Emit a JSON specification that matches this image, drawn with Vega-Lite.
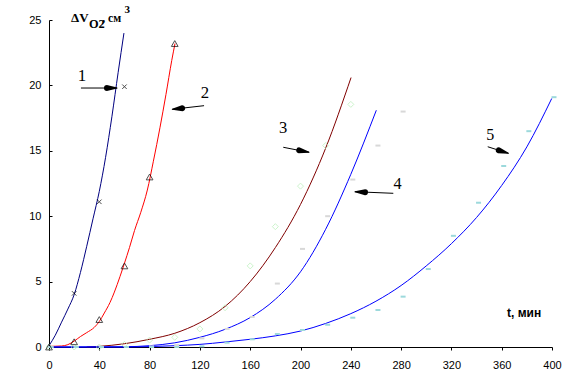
{
  "$schema": "https://vega.github.io/schema/vega-lite/v6.json",
  "width": 503,
  "height": 327,
  "autosize": {"type": "none"},
  "padding": {"left": 49, "top": 20, "right": 20, "bottom": 45},
  "background": "white",
  "config": {
    "view": {"stroke": null},
    "axis": {"grid": false, "domainColor": "black", "tickColor": "black", "labelColor": "black", "labelFont": "Liberation Sans", "labelFontSize": 11, "title": null}
  },
  "datasets": {
    "curves": [
      {"s": "1", "t": 0, "v": 0.1}, {"s": "1", "t": 5, "v": 0.9}, {"s": "1", "t": 10, "v": 1.9}, {"s": "1", "t": 15, "v": 2.9}, {"s": "1", "t": 20, "v": 4.0}, {"s": "1", "t": 25, "v": 5.7}, {"s": "1", "t": 30, "v": 7.7}, {"s": "1", "t": 35, "v": 9.8}, {"s": "1", "t": 40, "v": 11.9}, {"s": "1", "t": 45, "v": 14.5}, {"s": "1", "t": 50, "v": 17.6}, {"s": "1", "t": 55, "v": 21.0}, {"s": "1", "t": 59.6, "v": 24.0},
      {"s": "2", "t": 0, "v": 0.05}, {"s": "2", "t": 10, "v": 0.08}, {"s": "2", "t": 15, "v": 0.18}, {"s": "2", "t": 20, "v": 0.45}, {"s": "2", "t": 25, "v": 0.8}, {"s": "2", "t": 30, "v": 1.1}, {"s": "2", "t": 36, "v": 1.5}, {"s": "2", "t": 40, "v": 1.95}, {"s": "2", "t": 44, "v": 2.6}, {"s": "2", "t": 48.5, "v": 3.4}, {"s": "2", "t": 52, "v": 4.2}, {"s": "2", "t": 56.5, "v": 5.4}, {"s": "2", "t": 60, "v": 6.4}, {"s": "2", "t": 64, "v": 7.6}, {"s": "2", "t": 68, "v": 8.9}, {"s": "2", "t": 73, "v": 10.3}, {"s": "2", "t": 78.2, "v": 12.0}, {"s": "2", "t": 83, "v": 14.2}, {"s": "2", "t": 88.3, "v": 16.8}, {"s": "2", "t": 93, "v": 19.3}, {"s": "2", "t": 97.6, "v": 21.9}, {"s": "2", "t": 100.2, "v": 23.2},
      {"s": "3", "t": 30, "v": 0}, {"s": "3", "t": 40, "v": 0.05}, {"s": "3", "t": 60, "v": 0.25}, {"s": "3", "t": 80, "v": 0.59}, {"s": "3", "t": 100, "v": 1.05}, {"s": "3", "t": 120, "v": 1.86}, {"s": "3", "t": 140, "v": 3.1}, {"s": "3", "t": 160, "v": 5.0}, {"s": "3", "t": 180, "v": 7.6}, {"s": "3", "t": 200, "v": 10.9}, {"s": "3", "t": 220, "v": 15.2}, {"s": "3", "t": 240.2, "v": 20.6},
      {"s": "4", "t": 0, "v": 0}, {"s": "4", "t": 60, "v": 0.02}, {"s": "4", "t": 80, "v": 0.1}, {"s": "4", "t": 100, "v": 0.32}, {"s": "4", "t": 120, "v": 0.74}, {"s": "4", "t": 140, "v": 1.35}, {"s": "4", "t": 160, "v": 2.25}, {"s": "4", "t": 180, "v": 3.65}, {"s": "4", "t": 200, "v": 5.75}, {"s": "4", "t": 220, "v": 9.0}, {"s": "4", "t": 240, "v": 13.2}, {"s": "4", "t": 260.3, "v": 18.1},
      {"s": "5", "t": 0, "v": 0}, {"s": "5", "t": 60, "v": 0}, {"s": "5", "t": 80, "v": 0.03}, {"s": "5", "t": 100, "v": 0.1}, {"s": "5", "t": 120, "v": 0.2}, {"s": "5", "t": 140, "v": 0.38}, {"s": "5", "t": 160, "v": 0.59}, {"s": "5", "t": 180, "v": 0.85}, {"s": "5", "t": 200, "v": 1.22}, {"s": "5", "t": 220, "v": 1.8}, {"s": "5", "t": 240, "v": 2.55}, {"s": "5", "t": 260, "v": 3.5}, {"s": "5", "t": 280, "v": 4.7}, {"s": "5", "t": 300, "v": 6.2}, {"s": "5", "t": 320, "v": 7.9}, {"s": "5", "t": 340, "v": 9.9}, {"s": "5", "t": 360, "v": 12.35}, {"s": "5", "t": 380, "v": 15.3}, {"s": "5", "t": 399.8, "v": 19.0}
    ],
    "pts": [
      {"s": "1", "t": 20, "v": 4.1}, {"s": "1", "t": 40, "v": 11.1}, {"s": "1", "t": 60, "v": 19.9},
      {"s": "2", "t": 0, "v": 0}, {"s": "2", "t": 20, "v": 0.4}, {"s": "2", "t": 40, "v": 2.1}, {"s": "2", "t": 60, "v": 6.2}, {"s": "2", "t": 80, "v": 13.0}, {"s": "2", "t": 100, "v": 23.2},
      {"s": "3", "t": 0, "v": 0}, {"s": "3", "t": 20, "v": 0}, {"s": "3", "t": 40, "v": 0}, {"s": "3", "t": 60, "v": 0.2}, {"s": "3", "t": 80, "v": 0.53}, {"s": "3", "t": 100, "v": 0.74}, {"s": "3", "t": 120, "v": 1.38}, {"s": "3", "t": 140, "v": 3.0}, {"s": "3", "t": 160, "v": 6.2}, {"s": "3", "t": 180, "v": 9.2}, {"s": "3", "t": 200, "v": 12.3}, {"s": "3", "t": 220, "v": 15.4}, {"s": "3", "t": 240, "v": 18.55},
      {"s": "4", "t": 0, "v": 0}, {"s": "4", "t": 20, "v": 0}, {"s": "4", "t": 40, "v": 0}, {"s": "4", "t": 60, "v": 0}, {"s": "4", "t": 80, "v": 0.05}, {"s": "4", "t": 100, "v": 0.15}, {"s": "4", "t": 120, "v": 0.66}, {"s": "4", "t": 140, "v": 1.38}, {"s": "4", "t": 160, "v": 2.3}, {"s": "4", "t": 180, "v": 4.85}, {"s": "4", "t": 200, "v": 7.5}, {"s": "4", "t": 220, "v": 10.0}, {"s": "4", "t": 240, "v": 12.8}, {"s": "4", "t": 260, "v": 15.4}, {"s": "4", "t": 280, "v": 18.0},
      {"s": "5", "t": 0, "v": 0}, {"s": "5", "t": 20, "v": 0}, {"s": "5", "t": 40, "v": 0}, {"s": "5", "t": 60, "v": 0}, {"s": "5", "t": 80, "v": 0}, {"s": "5", "t": 100, "v": 0}, {"s": "5", "t": 120, "v": 0.05}, {"s": "5", "t": 140, "v": 0.33}, {"s": "5", "t": 160, "v": 0.59}, {"s": "5", "t": 180, "v": 0.99}, {"s": "5", "t": 200, "v": 1.3}, {"s": "5", "t": 220, "v": 1.7}, {"s": "5", "t": 240, "v": 2.24}, {"s": "5", "t": 260, "v": 2.83}, {"s": "5", "t": 280, "v": 3.85}, {"s": "5", "t": 300, "v": 5.96}, {"s": "5", "t": 320, "v": 8.5}, {"s": "5", "t": 340, "v": 11.03}, {"s": "5", "t": 360, "v": 13.84}, {"s": "5", "t": 380, "v": 16.5}, {"s": "5", "t": 400, "v": 19.1}
    ],
    "arrows": [
      {"a": "1", "part": "tail", "t": 25.4, "v": 19.8}, {"a": "1", "part": "base", "t": 46.1, "v": 19.8}, {"a": "1", "part": "tip", "t": 54.1, "v": 19.8},
      {"a": "2", "part": "tail", "t": 123.3, "v": 18.45}, {"a": "2", "part": "base", "t": 105.9, "v": 18.26}, {"a": "2", "part": "tip", "t": 98.05, "v": 18.17},
      {"a": "3", "part": "tail", "t": 186.3, "v": 15.27}, {"a": "3", "part": "base", "t": 199.0, "v": 15.03}, {"a": "3", "part": "tip", "t": 206.8, "v": 14.89},
      {"a": "4", "part": "tail", "t": 273.8, "v": 11.75}, {"a": "4", "part": "base", "t": 251.3, "v": 11.84}, {"a": "4", "part": "tip", "t": 243.3, "v": 11.87},
      {"a": "5", "part": "tail", "t": 348.9, "v": 15.31}, {"a": "5", "part": "base", "t": 357.7, "v": 15.04}, {"a": "5", "part": "tip", "t": 365.3, "v": 14.81}
    ],
    "labels": [
      {"label": "1", "t": 26.2, "v": 20.72},
      {"label": "2", "t": 124.1, "v": 19.4},
      {"label": "3", "t": 186.1, "v": 16.72},
      {"label": "4", "t": 277.1, "v": 12.46},
      {"label": "5", "t": 350.8, "v": 16.2}
    ],
    "titles": [
      {"part": "dv", "txt": "ΔV", "t": 17.5, "v": 24.85},
      {"part": "o2", "txt": "O2", "t": 31.8, "v": 24.39},
      {"part": "cm", "txt": ", см", "t": 42.3, "v": 24.85},
      {"part": "sup", "txt": "3", "t": 60.0, "v": 25.54}
    ],
    "xtitle": [
      {"txt": "t, мин", "t": 364.2, "v": 2.32}
    ]
  },
  "encoding": {
    "x": {"field": "t", "type": "quantitative", "scale": {"domain": [0, 400], "nice": false, "zero": false}, "axis": {"values": [0, 40, 80, 120, 160, 200, 240, 280, 320, 360, 400], "tickSize": 3, "labelPadding": 9, "labelFlush": false}},
    "y": {"field": "v", "type": "quantitative", "scale": {"domain": [0, 25], "nice": false}, "axis": {"values": [0, 5, 10, 15, 20, 25], "tickSize": -3, "labelPadding": 11}}
  },
  "layer": [
    {
      "data": {"name": "curves"},
      "mark": {"type": "line", "interpolate": "monotone", "strokeWidth": 1},
      "encoding": {
        "color": {"field": "s", "type": "nominal", "scale": {"domain": ["1", "2", "3", "4", "5"], "range": ["#000080", "#ff0000", "#800000", "#0000ff", "#0000ff"]}, "legend": null}
      }
    },
    {
      "data": {"name": "pts"},
      "transform": [{"filter": "datum.s === '3'"}],
      "mark": {"type": "point", "shape": "diamond", "filled": false, "color": "#b8f0b8", "size": 36, "strokeWidth": 1}
    },
    {
      "data": {"name": "pts"},
      "transform": [{"filter": "datum.s === '4'"}],
      "mark": {"type": "point", "shape": "M-0.2,-0.4H1.8V0.4H-0.2Z", "filled": true, "color": "#d8d8d8", "size": 25, "opacity": 1}
    },
    {
      "data": {"name": "pts"},
      "transform": [{"filter": "datum.s === '5'"}],
      "mark": {"type": "point", "shape": "M-0.2,-0.4H1.8V0.4H-0.2Z", "filled": true, "color": "#9cd9dc", "size": 25, "opacity": 1}
    },
    {
      "data": {"name": "pts"},
      "transform": [{"filter": "datum.s === '2'"}],
      "mark": {"type": "point", "shape": "triangle-up", "filled": false, "color": "black", "size": 45, "strokeWidth": 1}
    },
    {
      "data": {"name": "pts"},
      "transform": [{"filter": "datum.s === '1'"}],
      "mark": {"type": "point", "shape": "M-1,-1L1,1M1,-1L-1,1", "filled": false, "color": "black", "size": 20, "strokeWidth": 1}
    },
    {
      "data": {"name": "arrows"},
      "mark": {"type": "line", "color": "black", "strokeWidth": 1},
      "encoding": {"detail": {"field": "a", "type": "nominal"}}
    },
    {
      "data": {"name": "arrows"},
      "transform": [{"filter": "datum.part !== 'tail'"}],
      "mark": {"type": "trail", "color": "black"},
      "encoding": {
        "detail": {"field": "a", "type": "nominal"},
        "size": {"field": "part", "type": "nominal", "scale": {"domain": ["base", "tip"], "range": [6, 0]}, "legend": null}
      }
    },
    {
      "data": {"name": "labels"},
      "mark": {"type": "text", "font": "Liberation Serif", "color": "black", "align": "center", "baseline": "middle"},
      "encoding": {
        "text": {"field": "label"},
        "size": {"field": "label", "type": "nominal", "scale": {"domain": ["1", "2", "3", "4", "5"], "range": [17, 16, 14, 21, 16]}, "legend": null}
      }
    },
    {
      "data": {"name": "titles"},
      "mark": {"type": "text", "font": "Liberation Serif", "fontWeight": "bold", "color": "black", "align": "left", "baseline": "alphabetic"},
      "encoding": {
        "text": {"field": "txt"},
        "size": {"field": "part", "type": "nominal", "scale": {"domain": ["dv", "o2", "cm", "sup"], "range": [13, 11, 13, 11]}, "legend": null}
      }
    },
    {
      "data": {"name": "xtitle"},
      "mark": {"type": "text", "font": "Liberation Sans", "fontWeight": "bold", "fontSize": 12, "color": "black", "align": "left", "baseline": "alphabetic"},
      "encoding": {"text": {"field": "txt"}}
    }
  ],
  "resolve": {"scale": {"size": "independent"}}
}
